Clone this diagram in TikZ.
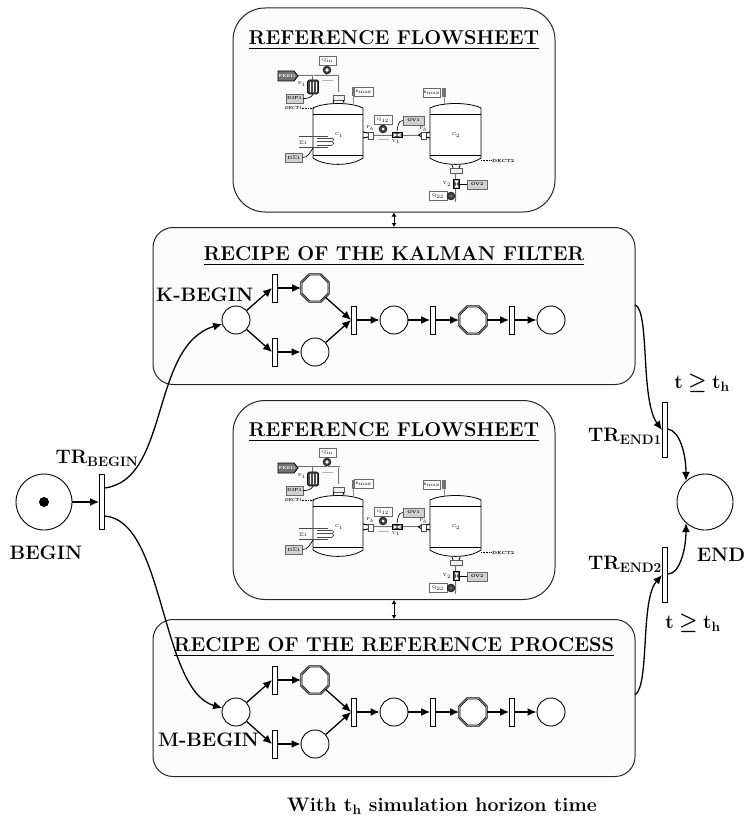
\documentclass[tikz,border=0pt]{standalone}
\usepackage{amsmath}
\usetikzlibrary{arrows.meta,shapes.geometric}

\tikzset{
  place/.style={draw, circle, fill=white, line width=0.9pt, minimum size=28pt, inner sep=0pt},
  bigplace/.style={draw, circle, fill=white, line width=0.9pt, minimum size=56pt, inner sep=0pt},
  macroplace/.style={draw=black, double=black!45, double distance=0.8pt, regular polygon, regular polygon sides=8, fill=white, line width=0.7pt, minimum size=29.5pt, inner sep=0pt},
  trans/.style={draw, fill=white, line width=0.9pt, minimum width=5pt, minimum height=28pt, inner sep=0pt},
  bigtrans/.style={draw, fill=white, line width=0.9pt, minimum width=5pt, minimum height=55pt, inner sep=0pt},
  panel/.style={draw=black!85, fill=black!1.5, line width=1pt, rounded corners=20pt, inner sep=0pt},
  heading/.style={font=\fontsize{20}{22}\selectfont\bfseries, inner sep=0pt},
  caption/.style={font=\fontsize{19.5}{22}\selectfont\bfseries, inner sep=0pt},
  flow/.style={->, line width=1.3pt},
  tag/.style={draw=black!60, fill=white, line width=0.4pt, font=\fontsize{4.2}{5}\selectfont, minimum width=17pt, minimum height=9pt, inner sep=0pt},
  graytag/.style={tag, fill=black!18, font=\fontsize{4.2}{5}\selectfont\bfseries},
  smalltext/.style={font=\fontsize{4.2}{5}\selectfont, inner sep=0pt},
  pipe/.style={draw=black!55, double=black!6, double distance=1pt, line width=0.5pt},
  meter/.style={draw=black, fill=black!75, circle, line width=0.4pt, minimum size=8pt, inner sep=0pt},
  vessel/.style={draw=black, fill=white, line width=0.8pt},
  flowsheet/.pic={
    % feed line and first vessel
    \draw [pipe] (298, 75) to (339, 75) to (339, 92);
    \draw [pipe] (313, 75) to (313, 81);
    \draw [pipe] (327, 70) to (327, 75);
    \draw [draw=black, fill=black!55, line width=0.8pt] (278, 71) -- (294, 71) -- (298, 76) -- (294, 81) -- (278, 81) -- cycle;
    \node [smalltext, text=white] (feed) at (287, 76) {\bfseries FEED};
    \node [tag] (qin) at (327.5, 60.5) {Q$_{\mathrm{in}}$};
    \node [meter] (qinm) at (327, 70) {};
    \fill [white] (327, 70) circle (1.8pt);
    \draw [draw=black!30, line width=0.5pt] (322, 80) to (333, 80);
    \node [draw=black, fill=black!70, rounded corners=1.5pt, line width=0.7pt, minimum width=11pt, minimum height=14pt, inner sep=0pt] (pump) at (313, 87) {};
    \draw [white, line width=0.5pt] (310, 82) to (310, 92) (313, 82) to (313, 92) (316, 82) to (316, 92);
    \node [smalltext] (pumpl) at (302, 84) {P$_1$};
    \node [graytag] (dip) at (294.5, 98.5) {DIP1};
    \draw [line width=0.7pt] (dip.east) to [out=0, in=-120] (pump.south);
    \draw [vessel] (313, 108) .. controls (325, 102) and (351, 102) .. (363, 108) -- (363, 158) .. controls (351, 166.5) and (325, 166.5) .. (313, 158) -- cycle;
    \draw [line width=0.7pt] (313, 114) to (363, 114) (313, 155.5) to (363, 155.5);
    \draw [draw=black!65, fill=black!6, line width=0.5pt] (333, 95) to (344, 95) to (344, 100) to (333, 100) -- cycle;
    \draw [line width=0.8pt] (334, 100) to (333, 103) (343, 100) to (344, 103);
    \node [smalltext] (c1) at (339, 135) {C$_1$};
    \node [tag, minimum width=19pt, anchor=west] (h1) at (354, 92) {h$_{\mathrm{max}}$};
    \fill [black!55] (352, 87.5) rectangle (355, 96.5);
    \draw [draw=black!45, line width=0.5pt] (353.5, 96.5) to (353.5, 104);
    \node [smalltext, font=\fontsize{4.4}{5}\selectfont\itshape\bfseries] (dect1) at (293, 108) {DECT1};
    \draw [densely dotted, line width=0.6pt] (dect1.east) to (313, 108);
    % heating coil
    \draw [draw=black!70, line width=0.5pt] (299, 136) to (328, 136) (299, 147) to (328, 147);
    \draw [draw=black!70, line width=0.7pt] (317, 138) to (332, 138) (317, 141.5) to (332, 141.5) (317, 145) to (332, 145);
    \draw [draw=black!70, line width=0.7pt] (332, 138) arc (90:-90:1.75pt) (332, 141.5) arc (90:-90:1.75pt);
    \node [smalltext, font=\fontsize{4.5}{5}\selectfont] (sig) at (303, 143) {$\Sigma$1};
    \node [graytag] (dsig) at (294, 157.5) {D$\Sigma$1};
    \draw [line width=0.7pt] (dsig.east) to [out=0, in=-125] (313, 148);
    % link between the vessels
    \draw [pipe] (373, 135) to (419, 135);
    \draw [line width=1pt] (363, 132) to (368, 133) (363, 138) to (368, 137);
    \node [draw=black!70, fill=white, line width=0.4pt, minimum width=5pt, minimum height=7pt, inner sep=0pt] (p1) at (370.5, 135.5) {};
    \node [smalltext] (p1l) at (370, 128) {P$_b$};
    \node [tag, minimum width=18pt] (q12) at (383, 120) {Q$_{12}$};
    \node [meter] (q12m) at (383, 129) {};
    \fill [white] (383, 129) circle (1.5pt);
    \draw [draw=black!30, line width=0.5pt] (378, 139.5) to (389, 139.5);
    \node [draw=black, fill=black!70, line width=0.4pt, minimum width=10pt, minimum height=5pt, inner sep=0pt] (v1) at (397, 135) {};
    \fill [white] (393.5, 133) -- (397, 135) -- (393.5, 137) -- cycle (400.5, 133) -- (397, 135) -- (400.5, 137) -- cycle;
    \node [smalltext] (v1l) at (396, 141.5) {V$_1$};
    \node [graytag, minimum width=21pt] (ov1) at (413.5, 120.5) {OV1};
    \draw [line width=0.6pt] (ov1.west) to [out=180, in=80] (397, 131);
    \node [draw=black!70, fill=white, line width=0.4pt, minimum width=5pt, minimum height=7pt, inner sep=0pt] (p2) at (423.5, 135.5) {};
    \node [smalltext] (p2l) at (423, 129) {P$_b$};
    \draw [line width=1pt] (430, 132) to (426, 133) (430, 138) to (426, 137) (418.5, 135) to (421, 133.5) (418.5, 135) to (421, 136.5);
    % second vessel
    \draw [vessel] (430, 108) .. controls (442, 102) and (469, 102) .. (481, 108) -- (481, 158) .. controls (469, 166.5) and (442, 166.5) .. (430, 158) -- cycle;
    \draw [line width=0.7pt] (430, 114) to (481, 114) (430, 155.5) to (481, 155.5);
    \node [smalltext] (c2) at (456, 135) {C$_2$};
    \node [tag, anchor=east] (h2) at (440.5, 92.5) {h$_{\mathrm{max}}$};
    \fill [black!55] (442, 88) rectangle (445.5, 97);
    \draw [draw=black!45, line width=0.5pt] (444, 97) to (444, 104);
    \node [smalltext, font=\fontsize{4.4}{5}\selectfont\bfseries, anchor=west] (dect2) at (492, 160.5) {DECT2};
    \draw [densely dotted, line width=0.6pt] (481, 160.5) to (dect2.west);
    % outlet
    \draw [pipe] (456, 172) to (456, 202);
    \draw [draw=black!65, fill=black!6, line width=0.5pt] (450.5, 168) to (462.5, 168) to (462.5, 173) to (450.5, 173) -- cycle;
    \draw [line width=0.8pt] (452, 165) to (453, 168) (460, 165) to (459, 168);
    \node [draw=black, fill=black!70, line width=0.4pt, minimum width=6pt, minimum height=9pt, inner sep=0pt] (v2) at (456.5, 184) {};
    \fill [white] (454.5, 180.5) -- (456.5, 184) -- (458.5, 180.5) -- cycle (454.5, 187.5) -- (456.5, 184) -- (458.5, 187.5) -- cycle;
    \node [smalltext] (v2l) at (447, 184) {V$_2$};
    \node [graytag, minimum width=20pt] (ov2) at (477, 184.5) {OV2};
    \draw [line width=0.6pt] (ov2.west) to (460, 184.5);
    \node [tag, minimum width=18pt] (q22) at (438, 196) {Q$_{22}$};
    \node [meter] (q22m) at (451, 196) {};
    \fill [black!40] (451, 196) circle (1pt);
  }
}

\begin{document}
\begin{tikzpicture}[x=1pt, y=-1pt, >={Latex[length=9pt,width=8pt]}]
  \useasboundingbox (0, 0) rectangle (747, 821);

  % panels
  \node [panel, rounded corners=32pt, minimum width=322pt, minimum height=204pt] (0) at (394, 110) {};
  \node [panel, minimum width=482pt, minimum height=157pt] (1) at (394, 306) {};
  \node [panel, rounded corners=32pt, minimum width=322pt, minimum height=199pt] (2) at (394, 500) {};
  \node [panel, minimum width=482pt, minimum height=157pt] (3) at (394, 698) {};
  \draw [<->, >={Latex[length=4pt,width=5pt]}, line width=0.8pt] (0.south) to (1.north);
  \draw [<->, >={Latex[length=4pt,width=5pt]}, line width=0.8pt] (2.south) to (3.north);

  % titles
  \node [heading] (4) at (394, 40) {\underline{REFERENCE FLOWSHEET}};
  \node [heading] (5) at (394, 256) {\underline{RECIPE OF THE KALMAN FILTER}};
  \node [heading] (6) at (394, 432) {\underline{REFERENCE FLOWSHEET}};
  \node [heading] (7) at (394, 647) {\underline{RECIPE OF THE REFERENCE PROCESS}};

  \pic (fs1) at (0, 0) {flowsheet};
  \pic (fs2) at (0, 392) {flowsheet};

  % recipe of the kalman filter
  \node [place] (10) at (236, 320) {};
  \node [trans] (11) at (275, 288) {};
  \node [trans] (12) at (275, 352) {};
  \node [macroplace] (13) at (315, 288) {};
  \node [place] (14) at (315, 352) {};
  \node [trans] (15) at (354, 320) {};
  \node [place] (16) at (394, 320) {};
  \node [trans] (17) at (433, 320) {};
  \node [macroplace] (18) at (473, 320) {};
  \node [trans] (19) at (512, 320) {};
  \node [place] (20) at (551, 320) {};
  \node [caption, anchor=west] (21) at (156, 295) {K-BEGIN};
  \draw [flow] (10) to (11.west);
  \draw [flow] (10) to (12.west);
  \draw [flow] (11) to (13);
  \draw [flow] (12) to (14);
  \draw [flow] (13) to (15.west);
  \draw [flow] (14) to (15.west);
  \draw [flow] (15) to (16);
  \draw [flow] (16) to (17);
  \draw [flow] (17) to (18);
  \draw [flow] (18) to (19);
  \draw [flow] (19) to (20);

  % recipe of the reference process
  \node [place] (30) at (236, 712) {};
  \node [trans] (31) at (275, 680) {};
  \node [trans] (32) at (275, 744) {};
  \node [macroplace] (33) at (315, 680) {};
  \node [place] (34) at (315, 744) {};
  \node [trans] (35) at (354, 712) {};
  \node [place] (36) at (394, 712) {};
  \node [trans] (37) at (433, 712) {};
  \node [macroplace] (38) at (473, 712) {};
  \node [trans] (39) at (512, 712) {};
  \node [place] (40) at (551, 712) {};
  \node [caption, anchor=west] (41) at (158, 740) {M-BEGIN};
  \draw [flow] (30) to (31.west);
  \draw [flow] (30) to (32.west);
  \draw [flow] (31) to (33);
  \draw [flow] (32) to (34);
  \draw [flow] (33) to (35.west);
  \draw [flow] (34) to (35.west);
  \draw [flow] (35) to (36);
  \draw [flow] (36) to (37);
  \draw [flow] (37) to (38);
  \draw [flow] (38) to (39);
  \draw [flow] (39) to (40);

  % start and end of the simulation
  \node [bigplace] (50) at (44, 502) {};
  \fill (50.center) circle (5pt);
  \node [bigtrans] (51) at (102, 502) {};
  \node [bigtrans] (52) at (665, 430) {};
  \node [bigtrans] (53) at (665, 575) {};
  \node [bigplace] (54) at (705, 502) {};
  \coordinate (55) at (104.5, 488);
  \coordinate (56) at (104.5, 516);
  \coordinate (57) at (635, 305);
  \coordinate (58) at (635, 695);
  \coordinate (59) at (668, 429);
  \coordinate (60) at (668, 574);
  \draw [flow] (50) to (51.west);
  \draw [flow] (55) .. controls (170, 480) and (150, 345) .. (10);
  \draw [flow] (56) .. controls (165, 520) and (160, 690) .. (30);
  \draw [flow] (57) .. controls (650, 310) and (640, 400) .. (52.west);
  \draw [flow] (58) .. controls (650, 685) and (640, 600) .. (53.west);
  \draw [flow] (59) .. controls (680, 431) and (686, 455) .. (54.132);
  \draw [flow] (60) .. controls (680, 574) and (686, 548) .. (54.228);

  % labels
  \node [caption] (61) at (46, 553) {BEGIN};
  \node [caption] (62) at (721, 555) {END};
  \node [caption] (63) at (97, 458) {TR$_{\text{BEGIN}}$};
  \node [caption] (64) at (625, 436) {TR$_{\text{END1}}$};
  \node [caption] (65) at (625, 564) {TR$_{\text{END2}}$};
  \node [caption] (66) at (702, 383) {t\;$\boldsymbol{\geq}$\;t$_{\text{h}}$};
  \node [caption] (67) at (693, 623) {t\;$\boldsymbol{\geq}$\;t$_{\text{h}}$};
  \node [caption] (68) at (442, 806) {With t$_{\text{h}}$ simulation horizon time};
\end{tikzpicture}
\end{document}
